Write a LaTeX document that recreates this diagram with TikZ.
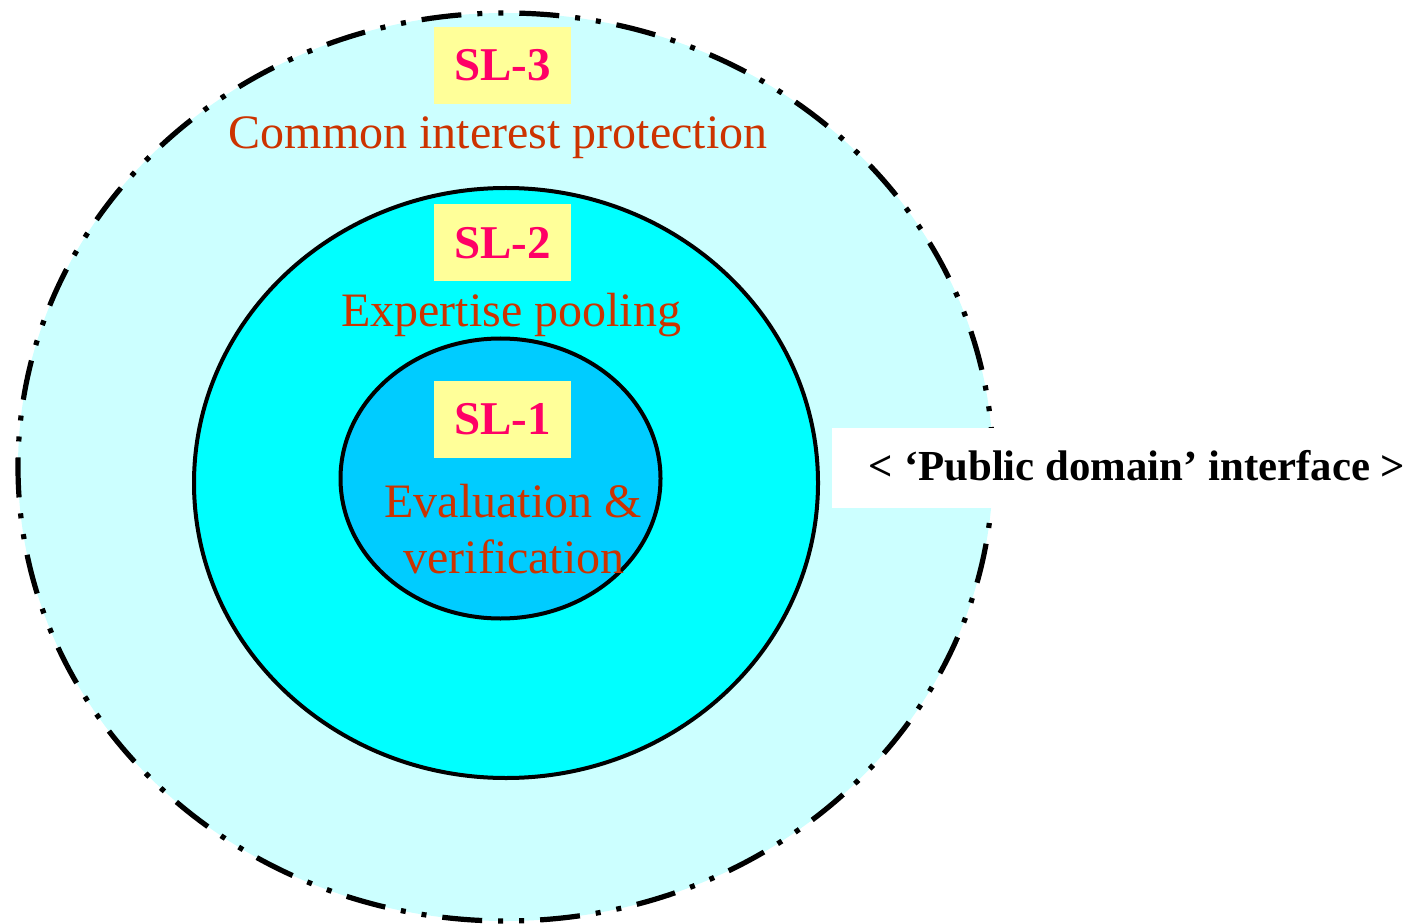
\documentclass[tikz,border=0pt]{standalone}
\usepackage{fontspec}
\setmainfont{Liberation Serif}
\usetikzlibrary{shapes.geometric}
\definecolor{ring3}{HTML}{CCFFFF}
\definecolor{ring2}{HTML}{00FFFF}
\definecolor{ring1}{HTML}{00CCFF}
\definecolor{tagfill}{HTML}{FFFF99}
\definecolor{tagtext}{HTML}{FF0066}
\definecolor{subtext}{HTML}{CC3300}
\tikzset{
  ringline/.style={line width=2pt, draw=black},
  outerline/.style={line width=2.6pt, draw=black,
    dash pattern=on 20pt off 8pt on 2.5pt off 8pt on 2.5pt off 8pt},
  tagbox/.style={fill=tagfill, inner sep=0pt, minimum width=68.5pt, minimum height=38.5pt,
    text=tagtext, font=\fontsize{23.5}{28}\selectfont\bfseries},
  subtitle/.style={text=subtext, inner sep=0pt, anchor=base, font=\fontsize{24}{28}\selectfont},
}
\begin{document}
\begin{tikzpicture}[x=0.5pt, y=-0.5pt]
\useasboundingbox (0,0) rectangle (1416,924);
% outer ring
\fill[ring3] (505.5,467) ellipse [x radius=243.75pt, y radius=227pt];
\draw[outerline] (505.5,467) ellipse [x radius=243.75pt, y radius=227pt];
% middle ring
\draw[ringline, fill=ring2] (506,483) ellipse [x radius=156pt, y radius=147.5pt];
% inner ring
\draw[ringline, fill=ring1] (500.5,478.5) ellipse [x radius=80pt, y radius=70pt];
% public domain box
\node[fill=white, inner sep=0pt, minimum width=292pt, minimum height=40pt] (pubbox) at (1124,468) {};
\node[inner sep=0pt, anchor=base, font=\fontsize{21.4}{26}\selectfont\bfseries] (pubtext) at (1137,480) {< ‘Public domain’ interface >};
% tags
\node[tagbox] (sl3) at (502.5,65.5) {SL-3};
\node[tagbox] (sl2) at (502.5,243) {SL-2};
\node[tagbox] (sl1) at (502.5,419.5) {SL-1};
% subtitles
\node[subtitle] (t3) at (498,149) {Common interest protection};
\node[subtitle] (t2) at (511,327) {Expertise pooling};
\node[subtitle] (t1a) at (513,517) {Evaluation \&};
\node[subtitle] (t1b) at (514,573) {verification};
\end{tikzpicture}
\end{document}
